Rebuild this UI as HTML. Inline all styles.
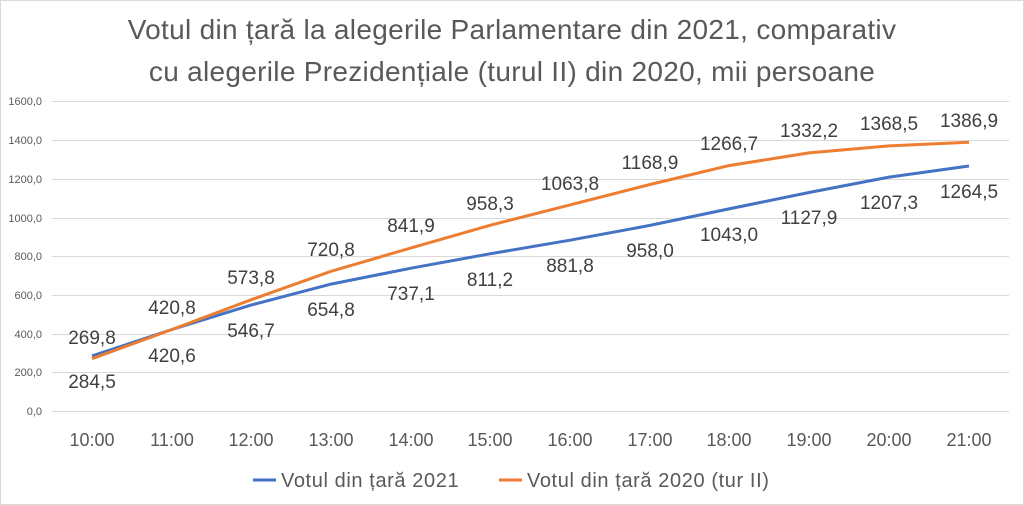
<!DOCTYPE html>
<html><head><meta charset="utf-8"><style>
html,body{margin:0;padding:0;background:#fff}
svg{display:block}
text{font-family:"Liberation Sans",sans-serif}
</style></head><body>
<svg width="1024" height="505" xmlns="http://www.w3.org/2000/svg">
<rect x="0.5" y="0.5" width="1023" height="504" fill="#fff" stroke="#d9d9d9"/>
<text x="512" y="39" font-size="28" letter-spacing="0.3" fill="#595959" text-anchor="middle">Votul din țară la alegerile Parlamentare din 2021, comparativ</text>
<text x="512" y="81" font-size="28" letter-spacing="0.3" fill="#595959" text-anchor="middle">cu alegerile Prezidențiale (turul II) din 2020, mii persoane</text>
<g stroke="#d9d9d9" stroke-width="1">
<line x1="52" x2="1009" y1="101.5" y2="101.5"/><line x1="52" x2="1009" y1="140.5" y2="140.5"/>
<line x1="52" x2="1009" y1="179.5" y2="179.5"/><line x1="52" x2="1009" y1="218.5" y2="218.5"/>
<line x1="52" x2="1009" y1="256.5" y2="256.5"/><line x1="52" x2="1009" y1="295.5" y2="295.5"/>
<line x1="52" x2="1009" y1="334.5" y2="334.5"/><line x1="52" x2="1009" y1="372.5" y2="372.5"/>
<line x1="52" x2="1009" y1="411.5" y2="411.5"/>
</g>
<g font-size="11" fill="#595959" text-anchor="end">
<text x="42" y="105">1600,0</text><text x="42" y="144">1400,0</text><text x="42" y="183">1200,0</text>
<text x="42" y="222">1000,0</text><text x="42" y="260">800,0</text><text x="42" y="299">600,0</text>
<text x="42" y="338">400,0</text><text x="42" y="376">200,0</text><text x="42" y="415">0,0</text>
</g>
<g font-size="18" fill="#595959" text-anchor="middle">
<text x="92" y="446">10:00</text><text x="172" y="446">11:00</text><text x="251" y="446">12:00</text>
<text x="331" y="446">13:00</text><text x="411" y="446">14:00</text><text x="490" y="446">15:00</text>
<text x="570" y="446">16:00</text><text x="650" y="446">17:00</text><text x="729" y="446">18:00</text>
<text x="809" y="446">19:00</text><text x="889" y="446">20:00</text><text x="969" y="446">21:00</text>
</g>
<polyline fill="none" stroke="#4472c4" stroke-width="3" stroke-linejoin="round" points="92,355.9 172,329.5 251,305.1 331,284.1 411,268.2 490,253.8 570,240.2 650,225.4 729,208.9 809,192.5 889,177.1 969,166.0"/>
<polyline fill="none" stroke="#ed7d31" stroke-width="3" stroke-linejoin="round" points="92,358.7 172,329.5 251,299.8 331,271.3 411,247.9 490,225.3 570,204.9 650,184.5 729,165.6 809,152.9 889,145.9 969,142.3"/>
<g font-size="19" fill="#404040" text-anchor="middle">
<text x="92" y="344">269,8</text><text x="172" y="314">420,8</text><text x="251" y="284">573,8</text>
<text x="331" y="256">720,8</text><text x="411" y="232">841,9</text><text x="490" y="210">958,3</text>
<text x="570" y="190">1063,8</text><text x="650" y="169">1168,9</text><text x="729" y="150">1266,7</text>
<text x="809" y="137">1332,2</text><text x="889" y="130">1368,5</text><text x="969" y="127">1386,9</text>
<text x="92" y="388">284,5</text><text x="172" y="362">420,6</text><text x="251" y="337">546,7</text>
<text x="331" y="316">654,8</text><text x="411" y="300">737,1</text><text x="490" y="286">811,2</text>
<text x="570" y="272">881,8</text><text x="650" y="257">958,0</text><text x="729" y="241">1043,0</text>
<text x="809" y="224">1127,9</text><text x="889" y="209">1207,3</text><text x="969" y="198">1264,5</text>
</g>
<line x1="253" x2="276" y1="480" y2="480" stroke="#4472c4" stroke-width="3"/>
<text x="281" y="487" font-size="20" letter-spacing="0.6" fill="#595959">Votul din țară 2021</text>
<line x1="499" x2="522" y1="480" y2="480" stroke="#ed7d31" stroke-width="3"/>
<text x="527" y="487" font-size="20" letter-spacing="0.6" fill="#595959">Votul din țară 2020 (tur II)</text>
</svg>
</body></html>
